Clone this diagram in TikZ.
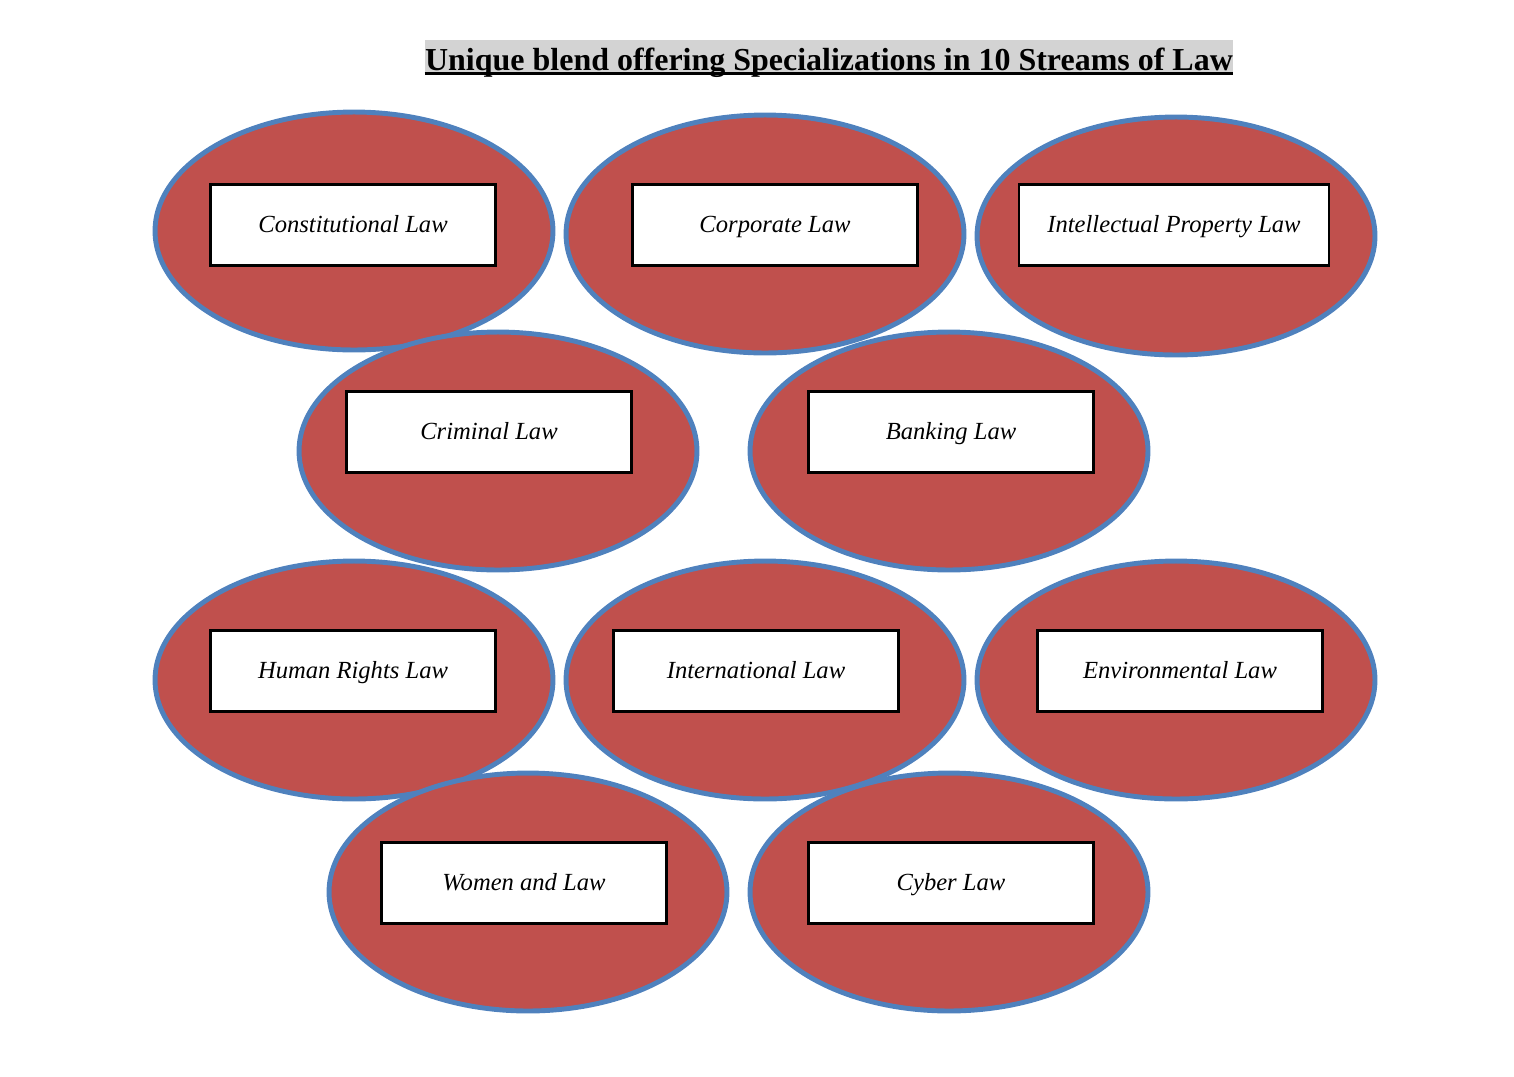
\documentclass[tikz,border=0pt]{standalone}
\usepackage{fontspec}
\setmainfont{Liberation Serif}
\usetikzlibrary{positioning, shapes.geometric}
\definecolor{lawred}{HTML}{C0504D}
\definecolor{lawblue}{HTML}{4F81BD}
\definecolor{headgray}{HTML}{D3D3D3}

\begin{document}
\begin{tikzpicture}[x=0.02cm, y=-0.02cm,
    stream/.style={ellipse, draw=lawblue, fill=lawred, line width=2.8pt,
                   minimum width=7.96cm, minimum height=4.76cm, inner sep=0pt},
    lawbox/.style={draw, rectangle, fill=white, line width=1.2pt,
                   minimum width=5.7cm, minimum height=1.62cm,
                   text height=11pt, text depth=3pt,
                   font=\itshape\fontsize{14}{16}\selectfont},
    headline/.style={fill=headgray, inner sep=0pt, anchor=base,
                     minimum width=16.16cm, text height=17pt, text depth=2.8pt,
                     font=\bfseries\fontsize{18.2}{20}\selectfont}
]
\useasboundingbox (0,0) rectangle (1514,1076);

\node[headline] (head) at (829,70) {Unique blend offering Specializations in 10 Streams of Law};
\draw[line width=1.8pt] ([yshift=1pt]head.south west) -- ([yshift=1pt]head.south east);

% the ten streams
\node[stream] (constit) at (354,231) {};
\node[stream] (corp) at (765,234) {};
\node[stream] (ip) at (1176,236) {};
\node[stream] (crim) at (498,451) {};
\node[stream] (bank) at (949,451) {};
\node[stream] (human) at (354,680) {};
\node[stream] (intl) at (765,680) {};
\node[stream] (env) at (1176,680) {};
\node[stream] (women) at (528,892) {};
\node[stream] (cyber) at (949,892) {};

% labels on top
\node[lawbox] (constitbox) at (353,225) {Constitutional Law};
\node[lawbox] (corpbox) at (775,225) {Corporate Law};
\node[lawbox, minimum width=6.2cm] (ipbox) at (1174,225) {Intellectual Property Law};
\node[lawbox] (crimbox) at (489,432) {Criminal Law};
\node[lawbox] (bankbox) at (951,432) {Banking Law};
\node[lawbox] (humanbox) at (353,671) {Human Rights Law};
\node[lawbox] (intlbox) at (756,671) {International Law};
\node[lawbox] (envbox) at (1180,671) {Environmental Law};
\node[lawbox] (womenbox) at (524,883) {Women and Law};
\node[lawbox] (cyberbox) at (951,883) {Cyber Law};

\end{tikzpicture}
\end{document}
